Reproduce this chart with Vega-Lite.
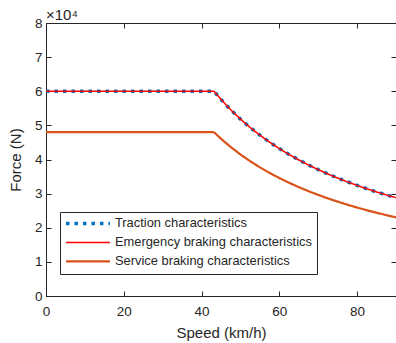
{
  "$schema": "https://vega.github.io/schema/vega-lite/v6.json",
  "width": 350,
  "height": 273,
  "autosize": {"type": "none"},
  "padding": {"left": 46, "top": 23, "right": 0, "bottom": 47},
  "title": {"text": "×10⁴", "anchor": "start", "frame": "group", "fontSize": 15, "fontWeight": "normal", "font": "Liberation Sans", "color": "#262626", "offset": -7},
  "config": {
    "font": "Liberation Sans",
    "view": {"stroke": "#262626", "strokeWidth": 1},
    "axis": {"domainColor": "#262626", "tickColor": "#262626", "labelColor": "#262626", "titleColor": "#262626", "labelFontSize": 13.5, "titleFontSize": 15, "titleFontWeight": "normal", "grid": false, "tickSize": -5, "labelFont": "Liberation Sans", "titleFont": "Liberation Sans"}
  },
  "datasets": {"curves": [
    {"series": "Traction characteristics", "speed": 0, "force": 60000},
    {"series": "Traction characteristics", "speed": 43.2, "force": 60000},
    {"series": "Traction characteristics", "speed": 45, "force": 57600},
    {"series": "Traction characteristics", "speed": 47.5, "force": 54568},
    {"series": "Traction characteristics", "speed": 50, "force": 51840},
    {"series": "Traction characteristics", "speed": 52.5, "force": 49371},
    {"series": "Traction characteristics", "speed": 55, "force": 47127},
    {"series": "Traction characteristics", "speed": 57.5, "force": 45078},
    {"series": "Traction characteristics", "speed": 60, "force": 43200},
    {"series": "Traction characteristics", "speed": 62.5, "force": 41472},
    {"series": "Traction characteristics", "speed": 65, "force": 39877},
    {"series": "Traction characteristics", "speed": 67.5, "force": 38400},
    {"series": "Traction characteristics", "speed": 70, "force": 37029},
    {"series": "Traction characteristics", "speed": 72.5, "force": 35752},
    {"series": "Traction characteristics", "speed": 75, "force": 34560},
    {"series": "Traction characteristics", "speed": 77.5, "force": 33445},
    {"series": "Traction characteristics", "speed": 80, "force": 32400},
    {"series": "Traction characteristics", "speed": 82.5, "force": 31418},
    {"series": "Traction characteristics", "speed": 85, "force": 30494},
    {"series": "Traction characteristics", "speed": 87.5, "force": 29623},
    {"series": "Traction characteristics", "speed": 90, "force": 28800},
    {"series": "Emergency braking characteristics", "speed": 0, "force": 60000},
    {"series": "Emergency braking characteristics", "speed": 43.2, "force": 60000},
    {"series": "Emergency braking characteristics", "speed": 45, "force": 57600},
    {"series": "Emergency braking characteristics", "speed": 47.5, "force": 54568},
    {"series": "Emergency braking characteristics", "speed": 50, "force": 51840},
    {"series": "Emergency braking characteristics", "speed": 52.5, "force": 49371},
    {"series": "Emergency braking characteristics", "speed": 55, "force": 47127},
    {"series": "Emergency braking characteristics", "speed": 57.5, "force": 45078},
    {"series": "Emergency braking characteristics", "speed": 60, "force": 43200},
    {"series": "Emergency braking characteristics", "speed": 62.5, "force": 41472},
    {"series": "Emergency braking characteristics", "speed": 65, "force": 39877},
    {"series": "Emergency braking characteristics", "speed": 67.5, "force": 38400},
    {"series": "Emergency braking characteristics", "speed": 70, "force": 37029},
    {"series": "Emergency braking characteristics", "speed": 72.5, "force": 35752},
    {"series": "Emergency braking characteristics", "speed": 75, "force": 34560},
    {"series": "Emergency braking characteristics", "speed": 77.5, "force": 33445},
    {"series": "Emergency braking characteristics", "speed": 80, "force": 32400},
    {"series": "Emergency braking characteristics", "speed": 82.5, "force": 31418},
    {"series": "Emergency braking characteristics", "speed": 85, "force": 30494},
    {"series": "Emergency braking characteristics", "speed": 87.5, "force": 29623},
    {"series": "Emergency braking characteristics", "speed": 90, "force": 28800},
    {"series": "Service braking characteristics", "speed": 0, "force": 48000},
    {"series": "Service braking characteristics", "speed": 43.2, "force": 48000},
    {"series": "Service braking characteristics", "speed": 45, "force": 46080},
    {"series": "Service braking characteristics", "speed": 47.5, "force": 43655},
    {"series": "Service braking characteristics", "speed": 50, "force": 41472},
    {"series": "Service braking characteristics", "speed": 52.5, "force": 39497},
    {"series": "Service braking characteristics", "speed": 55, "force": 37702},
    {"series": "Service braking characteristics", "speed": 57.5, "force": 36063},
    {"series": "Service braking characteristics", "speed": 60, "force": 34560},
    {"series": "Service braking characteristics", "speed": 62.5, "force": 33178},
    {"series": "Service braking characteristics", "speed": 65, "force": 31902},
    {"series": "Service braking characteristics", "speed": 67.5, "force": 30720},
    {"series": "Service braking characteristics", "speed": 70, "force": 29623},
    {"series": "Service braking characteristics", "speed": 72.5, "force": 28601},
    {"series": "Service braking characteristics", "speed": 75, "force": 27648},
    {"series": "Service braking characteristics", "speed": 77.5, "force": 26756},
    {"series": "Service braking characteristics", "speed": 80, "force": 25920},
    {"series": "Service braking characteristics", "speed": 82.5, "force": 25135},
    {"series": "Service braking characteristics", "speed": 85, "force": 24395},
    {"series": "Service braking characteristics", "speed": 87.5, "force": 23698},
    {"series": "Service braking characteristics", "speed": 90, "force": 23040}
  ]},
  "data": {"name": "curves"},
  "layer": [
    {"transform": [{"filter": "datum.series === 'Traction characteristics'"}],
     "mark": {"type": "line", "strokeCap": "butt", "strokeWidth": 3.5},
     "encoding": {
       "x": {"field": "speed", "type": "quantitative", "scale": {"domain": [0, 90], "nice": false, "zero": false},
             "axis": {"orient": "bottom", "values": [0, 20, 40, 60, 80], "title": "Speed (km/h)", "labelPadding": 13, "titlePadding": 8, "labelFlush": false}},
       "y": {"field": "force", "type": "quantitative", "scale": {"domain": [0, 80000], "nice": false},
             "axis": {"orient": "left", "values": [0, 10000, 20000, 30000, 40000, 50000, 60000, 70000, 80000], "labelExpr": "datum.value / 10000", "title": "Force (N)", "labelPadding": 9, "titlePadding": 11, "labelFlush": false}},
       "color": {"field": "series", "type": "nominal",
                 "scale": {"domain": ["Traction characteristics", "Emergency braking characteristics", "Service braking characteristics"], "range": ["#0072BD", "#FF0000", "#D95319"]},
                 "legend": {"title": null, "orient": "none", "legendX": 14, "legendY": 189, "fillColor": "white", "strokeColor": "#262626", "padding": 5, "rowPadding": 5,
                            "symbolType": "M-1,0H7", "symbolSize": 121, "labelFontSize": 12.9, "labelColor": "#262626", "labelFont": "Liberation Sans", "labelOffset": 37, "labelLimit": 400,
                            "encode": {"symbols": {"update": {"strokeWidth": {"signal": "datum.value === 'Traction characteristics' ? 3.5 : datum.value === 'Emergency braking characteristics' ? 1.5 : 2.2"}}}}}},
       "strokeDash": {"field": "series", "type": "nominal",
                      "scale": {"domain": ["Traction characteristics", "Emergency braking characteristics", "Service braking characteristics"], "range": [[3.5, 5], [1, 0], [1, 0]]}}
     }},
    {"transform": [{"filter": "datum.series === 'Emergency braking characteristics'"}],
     "mark": {"type": "line", "strokeWidth": 1.5},
     "encoding": {
       "x": {"field": "speed", "type": "quantitative", "axis": null},
       "y": {"field": "force", "type": "quantitative", "axis": null},
       "color": {"field": "series", "type": "nominal"},
       "strokeDash": {"field": "series", "type": "nominal"}
     }},
    {"transform": [{"filter": "datum.series === 'Service braking characteristics'"}],
     "mark": {"type": "line", "strokeWidth": 2.2},
     "encoding": {
       "x": {"field": "speed", "type": "quantitative", "axis": null},
       "y": {"field": "force", "type": "quantitative", "axis": null},
       "color": {"field": "series", "type": "nominal"},
       "strokeDash": {"field": "series", "type": "nominal"}
     }},
    {"mark": {"type": "line", "opacity": 0},
     "encoding": {
       "x": {"field": "speed", "type": "quantitative", "axis": {"orient": "top", "values": [0, 20, 40, 60, 80], "labels": false, "title": null, "domain": false}},
       "y": {"field": "force", "type": "quantitative", "axis": {"orient": "right", "values": [0, 10000, 20000, 30000, 40000, 50000, 60000, 70000, 80000], "labels": false, "title": null, "domain": false}},
       "detail": {"field": "series", "type": "nominal"}
     }}
  ],
  "resolve": {"axis": {"x": "independent", "y": "independent"}}
}
